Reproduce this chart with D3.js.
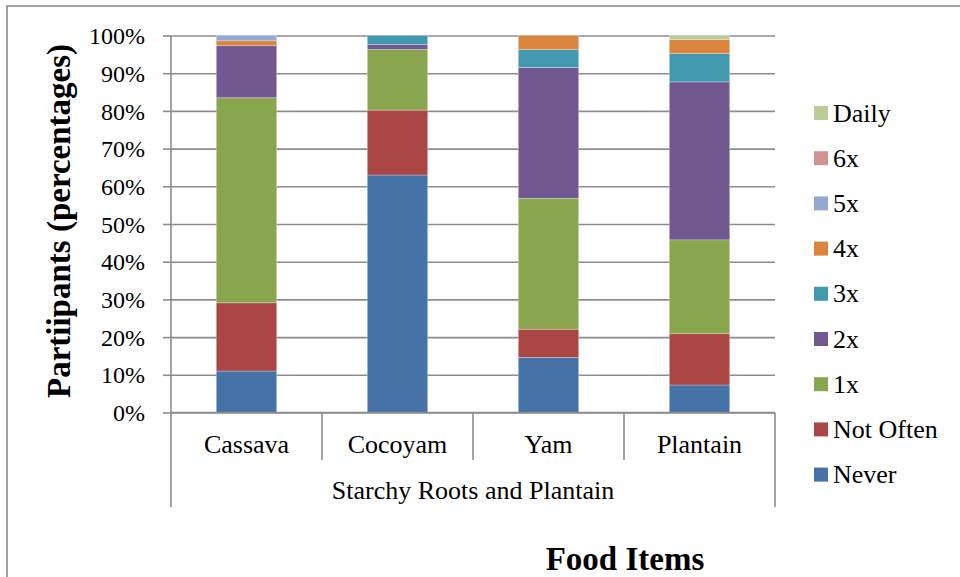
<!DOCTYPE html>
<html>
<head>
<meta charset="utf-8">
<script src="https://cdn.jsdelivr.net/npm/d3@7/dist/d3.min.js"></script>
<style>
  html, body { margin: 0; padding: 0; background: #fff; }
  svg { display: block; }
  svg text { font-family: "Liberation Serif", "Times New Roman", serif !important; fill: #000; }
</style>
</head>
<body>
<svg id="chart" width="960" height="577"></svg>
<script>
// Food items (categories) and frequency-of-consumption shares (% of participants)
const categories = ["Cassava", "Cocoyam", "Yam", "Plantain"];
const groupLabel = "Starchy Roots and Plantain";
const seriesNames = ["Never", "Not Often", "1x", "2x", "3x", "4x", "5x", "6x", "Daily"];
const never    = [11.0, 63.0, 14.6, 7.3];
const notOften = [18.1, 17.2, 7.5, 13.6];
const once     = [54.4, 16.1, 34.7, 24.9];
const twice    = [13.8, 1.3, 34.7, 41.9];
const thrice   = [0.0, 2.4, 4.8, 7.5];
const four     = [1.3, 0.0, 3.7, 3.7];
const five     = [1.4, 0.0, 0.0, 0.0];
const six      = [0.0, 0.0, 0.0, 0.0];
const daily    = [0.0, 0.0, 0.0, 1.1];
const yTicks   = [0, 10, 20, 30, 40, 50, 60, 70, 80, 90, 100];
const colors   = ["#4572a7", "#aa4643", "#89a54e", "#71588f", "#4198af", "#db843d", "#93a9cf", "#d19392", "#b9cd96"];

const seriesValues = [never, notOften, once, twice, thrice, four, five, six, daily];
const table = categories.map((c, i) => {
  const row = { category: c };
  seriesNames.forEach((s, k) => { row[s] = seriesValues[k][i]; });
  return row;
});

const svg = d3.select("#chart");
const plotLeft = 171, plotRight = 775, plotTop = 35.5, plotBottom = 412.5;
const gridColor = "#8c8c8c";

// outer chart border (continues past the right and bottom edges)
svg.append("rect")
  .attr("x", 7).attr("y", 6).attr("width", 1000).attr("height", 1000)
  .attr("fill", "none").attr("stroke", gridColor).attr("stroke-width", 1.6);

const x = d3.scaleBand().domain(categories).range([plotLeft, plotRight])
  .paddingInner(0.6).paddingOuter(0.3);
const y = d3.scaleLinear().domain([0, 100]).range([plotBottom, plotTop]);
const color = d3.scaleOrdinal().domain(seriesNames).range(colors);

// horizontal gridlines
const grid = svg.append("g").attr("transform", `translate(${plotLeft},0)`)
  .call(d3.axisLeft(y).tickValues(yTicks).tickSize(-(plotRight - plotLeft)).tickFormat(""));
grid.select(".domain").remove();
grid.selectAll("line").attr("stroke", gridColor).attr("stroke-width", 1.6);

// stacked bars
const stack = d3.stack().keys(seriesNames)(table);
svg.append("g").selectAll("g").data(stack).join("g")
  .attr("fill", d => color(d.key))
  .selectAll("rect").data(d => d).join("rect")
  .attr("x", d => x(d.data.category))
  .attr("width", x.bandwidth())
  .attr("y", d => y(d[1]))
  .attr("height", d => Math.max(0, y(d[0]) - y(d[1])))
  .attr("stroke", "rgba(255,255,255,0.35)")
  .attr("stroke-width", 0.8);

// y axis with percentage labels
const yAxis = svg.append("g").attr("transform", `translate(${plotLeft},0)`)
  .call(d3.axisLeft(y).tickValues(yTicks).tickSize(8).tickPadding(18).tickFormat(d => d + "%"));
yAxis.select(".domain").attr("stroke", gridColor).attr("stroke-width", 1.6)
  .attr("d", `M0,${plotTop}V${plotBottom}`);
yAxis.selectAll(".tick line").attr("stroke", gridColor).attr("stroke-width", 1.6);
yAxis.selectAll(".tick text").attr("font-size", 24).attr("dy", "0.34em");

// x axis baseline and category dividers
const step = x.step();
svg.append("line").attr("x1", plotLeft).attr("x2", plotRight)
  .attr("y1", plotBottom).attr("y2", plotBottom)
  .attr("stroke", gridColor).attr("stroke-width", 1.6);
const dividers = d3.range(categories.length + 1);
svg.append("g").selectAll("line").data(dividers).join("line")
  .attr("x1", i => plotLeft + i * step).attr("x2", i => plotLeft + i * step)
  .attr("y1", plotBottom)
  .attr("y2", i => (i === 0 || i === categories.length) ? 507 : 460)
  .attr("stroke", gridColor).attr("stroke-width", 1.6);

// category labels
svg.append("g").selectAll("text").data(categories).join("text")
  .attr("x", d => x(d) + x.bandwidth() / 2)
  .attr("y", 453)
  .attr("text-anchor", "middle")
  .attr("font-size", 26)
  .text(d => d);

// group label
svg.append("text")
  .attr("x", (plotLeft + plotRight) / 2).attr("y", 499)
  .attr("text-anchor", "middle").attr("font-size", 26)
  .text(groupLabel);

// axis titles
svg.append("text")
  .attr("transform", "translate(70,221) rotate(-90)")
  .attr("text-anchor", "middle").attr("font-size", 33).attr("font-weight", "bold")
  .text("Partiipants (percentages)");
svg.append("text")
  .attr("x", 625).attr("y", 570)
  .attr("text-anchor", "middle").attr("font-size", 33).attr("font-weight", "bold")
  .text("Food Items");

// legend, top entry is the last series
const legendOrder = seriesNames.slice().reverse();
const legend = svg.append("g").selectAll("g").data(legendOrder).join("g")
  .attr("transform", (d, i) => `translate(814,${113 + i * 45.2})`);
legend.append("rect")
  .attr("x", 0).attr("y", -7).attr("width", 14).attr("height", 14)
  .attr("fill", d => color(d));
legend.append("text")
  .attr("x", 19).attr("y", 8.5)
  .attr("font-size", 26)
  .text(d => d);
</script>
</body>
</html>
